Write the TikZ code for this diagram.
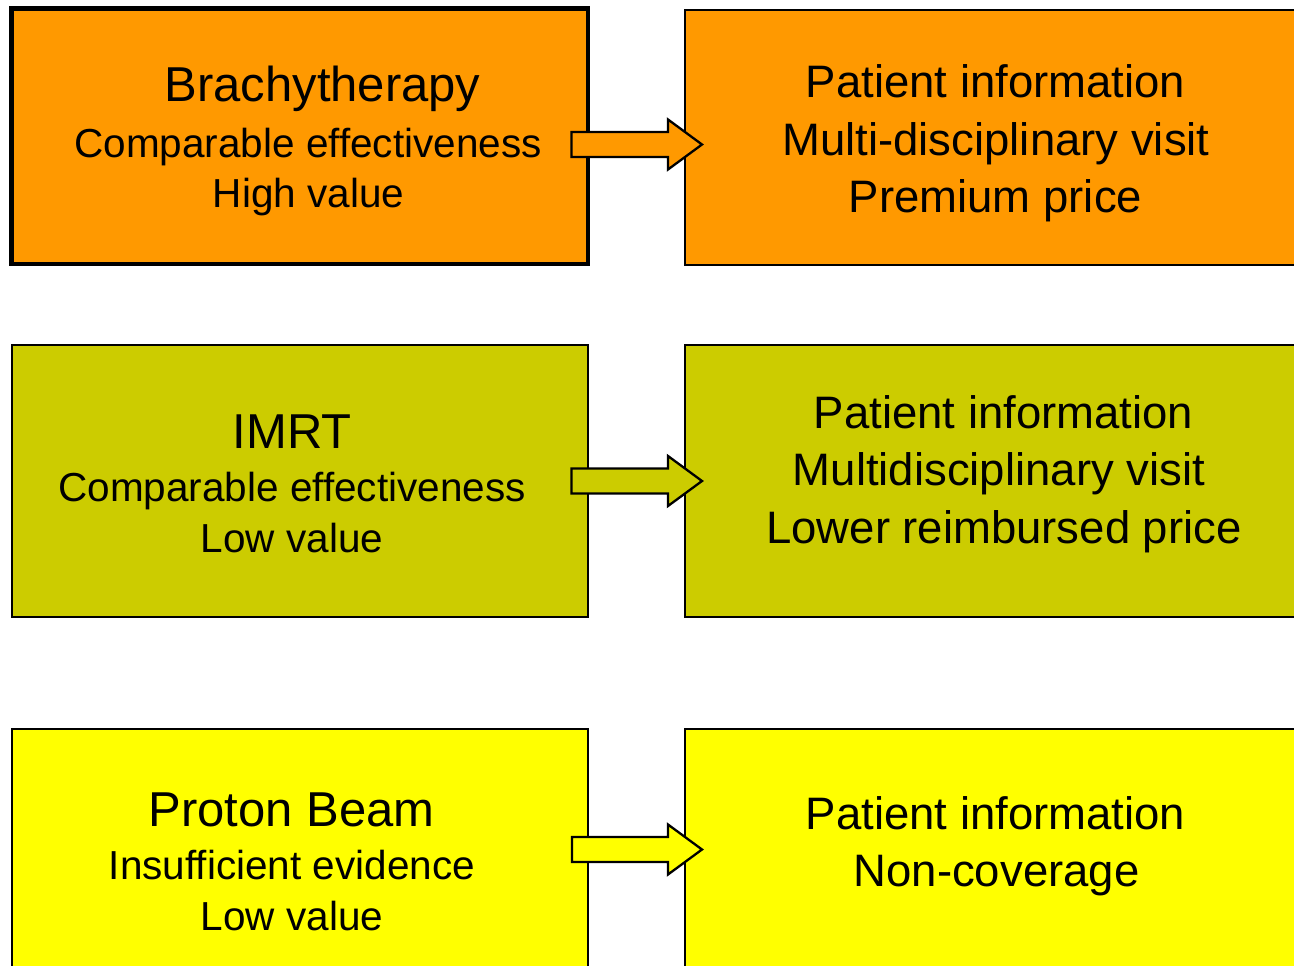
\documentclass[tikz,border=0pt]{standalone}
\usepackage{fontspec}
\setmainfont{Liberation Sans}
\usetikzlibrary{calc}
\definecolor{orng}{HTML}{FF9900}
\definecolor{olive}{HTML}{CCCC00}
\definecolor{yel}{HTML}{FFFF00}
\tikzset{
  box/.style={draw=black, line width=2pt, rectangle, inner sep=0pt, outer sep=0pt, anchor=north west},
  thickbox/.style={box, line width=4.5pt},
  ttl/.style={anchor=base, inner sep=0pt, font=\fontsize{49}{58}\selectfont},
  sub/.style={anchor=base, inner sep=0pt, font=\fontsize{40.5}{50}\selectfont},
  rtxt/.style={anchor=base, inner sep=0pt, font=\fontsize{45.5}{57}\selectfont},
  blockarr/.style={draw=black, line width=2.3pt, line join=miter}
}
\begin{document}
\begin{tikzpicture}[x=1pt,y=-1pt]
\useasboundingbox (0,0) rectangle (1294,966);
\clip (0,0) rectangle (1294,966);
% boxes
\node[thickbox, fill=orng, minimum width=576.3pt, minimum height=255.5pt] (A) at (11.7,8.5) {};
\node[box, fill=orng, minimum width=640pt, minimum height=254.5pt] (B) at (684.5,10) {};
\node[box, fill=olive, minimum width=576pt, minimum height=272pt] (C) at (12,345) {};
\node[box, fill=olive, minimum width=640pt, minimum height=272pt] (D) at (684.5,345) {};
\node[box, fill=yel, minimum width=576pt, minimum height=260pt] (E) at (12,729) {};
\node[box, fill=yel, minimum width=640pt, minimum height=260pt] (F) at (684.5,729) {};
% texts left
\node[ttl] (a1) at (322.5,102) {Brachytherapy};
\node[sub] (a2) at (308,157) {Comparable effectiveness};
\node[sub] (a3) at (308.5,207) {High value};
\node[ttl] (c1) at (292,448) {IMRT};
\node[sub] (c2) at (292,501) {Comparable effectiveness};
\node[sub] (c3) at (292,552) {Low value};
\node[ttl] (e1) at (291.5,826) {Proton Beam};
\node[sub] (e2) at (292,879) {Insufficient evidence};
\node[sub] (e3) at (292,930) {Low value};
% texts right
\node[rtxt] (b1) at (995.5,97) {Patient information};
\node[rtxt] (b2) at (996,155) {Multi-disciplinary visit};
\node[rtxt] (b3) at (995.5,212) {Premium price};
\node[rtxt] (d1) at (1003.5,428) {Patient information};
\node[rtxt] (d2) at (999,485) {Multidisciplinary visit};
\node[rtxt] (d3) at (1004,543) {Lower reimbursed price};
\node[rtxt] (f1) at (995.5,829) {Patient information};
\node[rtxt] (f2) at (996.5,886) {Non-coverage};
% arrow anchors
\coordinate (s1) at ($(A.east |- 0,144.5)+(-16.5,0)$);
\coordinate (t1) at ($(B.west |- 0,144.5)+(17.5,0)$);
\coordinate (s2) at ($(C.east |- 0,481)+(-16.5,0)$);
\coordinate (t2) at ($(D.west |- 0,481)+(17.5,0)$);
\coordinate (s3) at ($(E.east |- 0,849.5)+(-16,0)$);
\coordinate (t3) at ($(F.west |- 0,849.5)+(17.5,0)$);
\foreach \s/\t/\c in {s1/t1/orng, s2/t2/olive, s3/t3/yel}{
  \draw[blockarr, fill=\c] ($(\s)+(0,-12.5)$) -- ($(\t)+(-34,-12.5)$) -- ($(\t)+(-34,-25)$) -- (\t)
    -- ($(\t)+(-34,25)$) -- ($(\t)+(-34,12.5)$) -- ($(\s)+(0,12.5)$) -- cycle;
}
\end{tikzpicture}
\end{document}
